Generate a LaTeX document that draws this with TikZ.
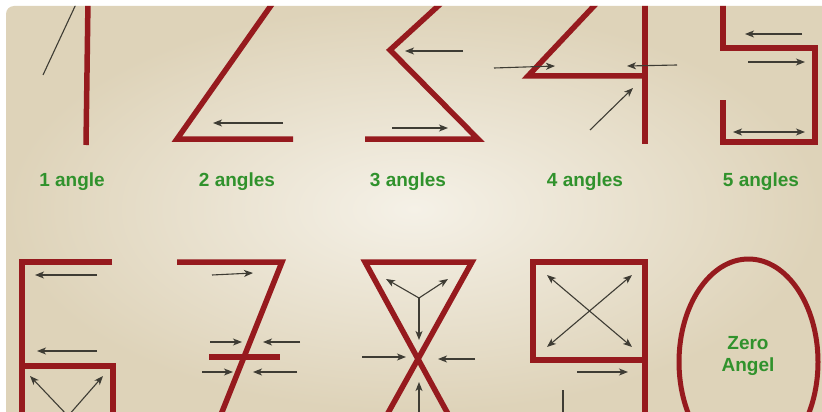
\documentclass[tikz,border=0pt]{standalone}
\usepackage{fontspec}
\setmainfont{Liberation Sans}
\usetikzlibrary{arrows.meta}
\definecolor{bgout}{RGB}{222,211,185}
\definecolor{bgin}{RGB}{245,241,231}
\definecolor{digred}{RGB}{150,26,30}
\definecolor{arrgray}{RGB}{62,60,52}
\definecolor{labgreen}{RGB}{48,146,44}
\begin{document}
\begin{tikzpicture}[x=1pt,y=-1pt,
  digit/.style={draw=digred,line width=5.5pt,line join=miter,line cap=butt},
  arr/.style={draw=arrgray,line width=1.1pt,-{Stealth[length=9pt,width=7pt,inset=2.5pt]}},
  darr/.style={draw=arrgray,line width=1.1pt,{Stealth[length=9pt,width=7pt,inset=2.5pt]}-{Stealth[length=9pt,width=7pt,inset=2.5pt]}},
  guide/.style={draw=arrgray,line width=1.1pt},
  lab/.style={text=labgreen,font=\fontsize{19}{22}\selectfont\bfseries,inner sep=0pt,align=center}]
\useasboundingbox (0,0) rectangle (822,412);
\fill[white] (0,0) rectangle (822,412);
\begin{scope}
\clip[rounded corners=8pt] (6,6) rectangle (840,430);
\shade[inner color=bgin,outer color=bgout] (6,6) rectangle (822,412);
% digit 1
\draw[digit] (88,0) -- (86,145);
\draw[guide] (77,2) -- (43,75);
% digit 2
\draw[digit] (273.5,2) -- (177,139) -- (293,139);
\draw[arr] (283,123) -- (213,123);
% digit 3
\draw[digit] (442.5,2) -- (390,50) -- (478,139) -- (365,139);
\draw[arr] (463,51) -- (405,51);
\draw[arr] (392,128) -- (448,128);
% digit 4
\draw[digit] (599.6,0) -- (528,76) -- (645,76);
\draw[digit] (645,0) -- (645,144);
\draw[arr] (494,68) -- (555,66);
\draw[arr] (677,65) -- (627,66);
\draw[arr] (590,130) -- (633,88);
% digit 5
\draw[digit] (723,0) -- (723,48) -- (815,48) -- (815,142) -- (723,142) -- (723,100);
\draw[arr] (802,34) -- (745,34);
\draw[arr] (748,62) -- (805,62);
\draw[darr] (733,132) -- (805,132);
% labels row 1
\node[lab] (l1) at (72,182) {1 angle};
\node[lab] (l2) at (237,182) {2 angles};
\node[lab] (l3) at (408,182) {3 angles};
\node[lab] (l4) at (585,182) {4 angles};
\node[lab] (l5) at (761,182) {5 angles};
% digit 6
\draw[digit] (112,262) -- (22,262) -- (22,422);
\draw[digit] (22,366) -- (113,366) -- (113,422);
\draw[arr] (97,275) -- (35,275);
\draw[arr] (97,351) -- (37,351);
\draw[arr] (68,416) -- (30,376);
\draw[arr] (68,416) -- (103,376);
% digit 7
\draw[digit] (177,262) -- (282,262) -- (218,422);
\draw[digit] (209,357) -- (280,357);
\draw[arr] (212,275) -- (253,273);
\draw[arr] (210,342) -- (242,342);
\draw[arr] (300,342) -- (263,342);
\draw[arr] (202,372) -- (233,372);
\draw[arr] (297,372) -- (253,372);
% digit 8
\draw[digit] (452.4,422) -- (365,262) -- (472,262) -- (383,422);
\coordinate (c8) at (419,298);
\draw[arr] (c8) -- (386,279);
\draw[arr] (c8) -- (448,279);
\draw[arr] (c8) -- (419,340);
\draw[arr] (362,357) -- (406,357);
\draw[arr] (475,359) -- (438,359);
\draw[arr] (419,416) -- (419,382);
% digit 9
\draw[digit] (645,360) -- (533,360) -- (533,262) -- (645,262) -- (645,422);
\draw[darr] (547,275) -- (632,347);
\draw[darr] (547,347) -- (632,275);
\draw[arr] (577,372) -- (628,372);
\draw[guide] (563,390) -- (563,416);
% zero
\draw[digit,line width=5pt] (748.5,362) ellipse [x radius=69.5, y radius=103];
\node[lab] (z) at (748,356) {Zero\\Angel};
\end{scope}
\end{tikzpicture}
\end{document}
